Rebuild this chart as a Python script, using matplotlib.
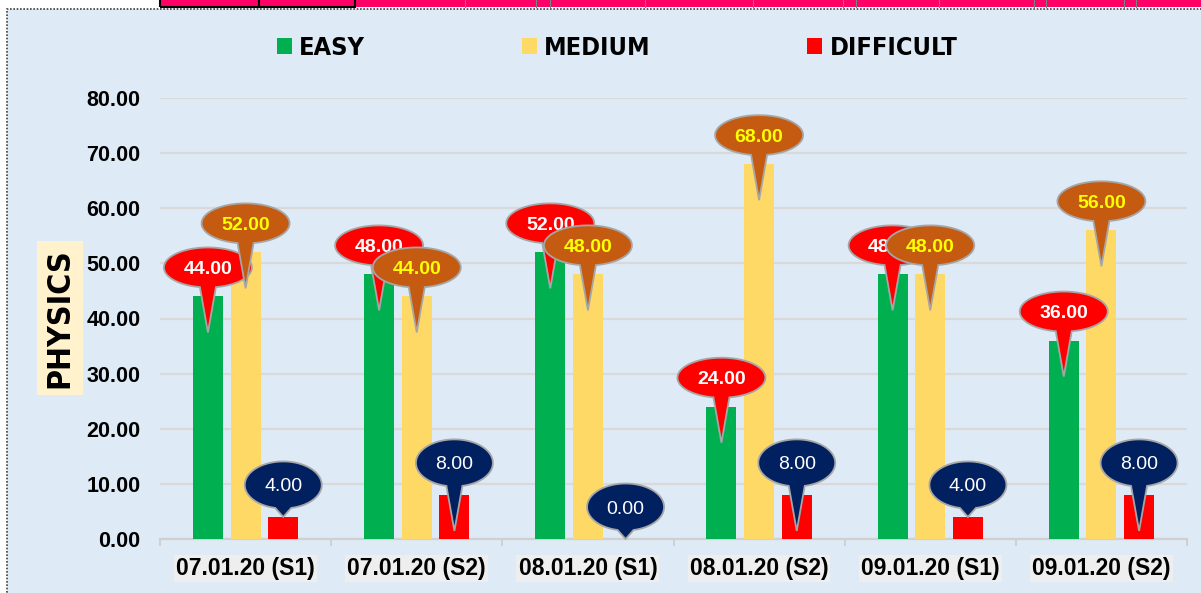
import matplotlib.pyplot as plt
import matplotlib.transforms as mtransforms
from matplotlib.path import Path
from matplotlib.patches import PathPatch, Rectangle, Patch
import numpy as np

categories = ["07.01.20 (S1)", "07.01.20 (S2)", "08.01.20 (S1)",
              "08.01.20 (S2)", "09.01.20 (S1)", "09.01.20 (S2)"]
easy = [44, 48, 52, 24, 48, 36]
medium = [52, 44, 48, 68, 48, 56]
difficult = [4, 8, 0, 8, 4, 8]

series_names = ["EASY", "MEDIUM", "DIFFICULT"]
bar_colors = ["#00B050", "#FFD966", "#FF0000"]
bubble_colors = ["#FF0000", "#C55A11", "#002060"]
bubble_text = ["white", "#FFFF00", "white"]

BG = "#DEEAF6"

fig = plt.figure(figsize=(12.01, 5.93), dpi=100)
fig.patch.set_facecolor("white")

# chart frame (dotted) and the pink strip above it
fig.patches.append(Rectangle((7 / 1201, -0.02), 1.05, (593 - 9) / 593 + 0.02,
                             transform=fig.transFigure, facecolor=BG,
                             edgecolor="#404040", linestyle=(0, (1, 1)), lw=1.2, zorder=-5))
fig.patches.append(Rectangle((160 / 1201, (593 - 7) / 593), 1.0, 0.05,
                             transform=fig.transFigure, facecolor="#FF0066",
                             edgecolor="none", zorder=-4))
fig.patches.append(Rectangle((160 / 1201, (593 - 7) / 593), (355 - 160) / 1201, 0.05,
                             transform=fig.transFigure, facecolor="none",
                             edgecolor="black", lw=1.5, zorder=-3))
fig.lines.append(plt.Line2D([259 / 1201] * 2, [(593 - 7) / 593, 1],
                            transform=fig.transFigure, color="black", lw=1.5, zorder=-3))
for xp in [465, 536, 550, 645, 753, 843, 856, 939, 1034, 1046, 1124, 1136]:
    fig.lines.append(plt.Line2D([xp / 1201] * 2, [(593 - 7) / 593, 1],
                                transform=fig.transFigure, color="#808080", lw=0.8, zorder=-3))

ax = fig.add_axes([160 / 1201, 1 - 539 / 593, (1187 - 160) / 1201, (539 - 98) / 593])
ax.set_facecolor("none")
ax.set_xlim(-0.5, len(categories) - 0.5)
ax.set_ylim(0, 80)

x = np.arange(len(categories))
width = 0.175
step = 0.22
all_series = [easy, medium, difficult]
for i, vals in enumerate(all_series):
    ax.bar(x + (i - 1) * step, vals, width, color=bar_colors[i], zorder=3)

ax.set_yticks(np.arange(0, 81, 10))
ax.set_yticklabels([f"{t:.2f}" for t in np.arange(0, 81, 10)])
ax.yaxis.grid(True, color="#D9D9D9", lw=1.6, zorder=0)
ax.set_axisbelow(True)
for s in ["left", "right", "top"]:
    ax.spines[s].set_visible(False)
ax.spines["bottom"].set_color("#D0D0D0")
ax.spines["bottom"].set_linewidth(1.6)
ax.tick_params(axis="y", length=0, pad=14, labelsize=15.5)
for lab in ax.get_yticklabels():
    lab.set_fontfamily("Liberation Sans")
    lab.set_fontweight("bold")

ax.set_xticks(x)
ax.set_xticklabels(categories)
ax.set_xticks(np.arange(-0.5, len(categories), 1), minor=True)
ax.tick_params(axis="x", which="major", length=0, pad=13, labelsize=16.5)
ax.tick_params(axis="x", which="minor", length=5, width=1.4, color="#D0D0D0")
for lab in ax.get_xticklabels():
    lab.set_fontfamily("Liberation Sans")
    lab.set_fontweight("bold")
    lab.set_bbox(dict(facecolor="#EEEEEE", edgecolor="none", pad=1.5))

# callouts: geometry in pixels relative to the bar top
px = mtransforms.Affine2D().scale(1 / fig.dpi) + fig.dpi_scale_trans


def callout(xc, v, face, tcolor, weight, a, b, cy, z):
    depth = 36 if v > 7 else 0
    trans = px + mtransforms.ScaledTranslation(xc, v, ax.transData)
    delta = np.arcsin(min(8.0 / a, 0.9))
    th = np.linspace(-np.pi / 2 + delta, 3 * np.pi / 2 - delta, 90)
    verts = list(zip(a * np.cos(th), cy + b * np.sin(th))) + [(0, -depth)]
    verts.append(verts[0])
    codes = [Path.MOVETO] + [Path.LINETO] * (len(verts) - 2) + [Path.CLOSEPOLY]
    patch = PathPatch(Path(verts, codes), transform=trans, facecolor=face,
                      edgecolor="#A6A6A6", lw=1.3, zorder=z, clip_on=False)
    ax.add_patch(patch)
    ax.annotate(f"{v:.2f}", xy=(xc, v), xytext=(0, cy * 0.72), textcoords="offset points",
                ha="center", va="center_baseline", color=tcolor, fontsize=14,
                fontweight=weight, family="Liberation Sans", zorder=z + 0.5,
                annotation_clip=False)


for i, vals in enumerate(all_series):
    for j, v in enumerate(vals):
        if i < 2:
            callout(x[j] + (i - 1) * step, v, bubble_colors[i], bubble_text[i],
                    "bold", 44, 20, 29, 5 + i)
        else:
            callout(x[j] + (i - 1) * step, v, bubble_colors[i], bubble_text[i],
                    "normal", 38.5, 23.5, 32, 5 + i)

handles = [Patch(facecolor=c, edgecolor="none") for c in bar_colors]
fig.legend(handles, series_names, loc="center", bbox_to_anchor=(617 / 1201, 0.919), ncol=3,
           frameon=False, handlelength=0.6, handleheight=0.6, handletextpad=0.28,
           columnspacing=6.2, prop=dict(family="DejaVu Sans", stretch="condensed",
                                        weight="bold", size=18.2))

fig.text(60 / 1201, 1 - 318 / 593, "PHYSICS", rotation=90, ha="center", va="center",
         fontsize=23, fontweight="bold", family="DejaVu Sans", fontstretch="condensed",
         bbox=dict(facecolor="#FFF2CC", edgecolor="none", pad=5))

fig.savefig("out.png", dpi=100)
